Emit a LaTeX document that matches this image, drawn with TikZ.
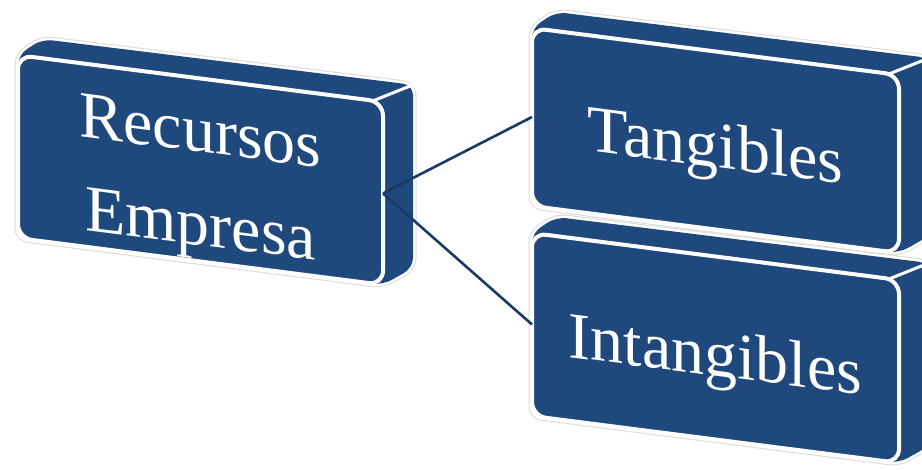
\documentclass[tikz,border=0pt]{standalone}
\usepackage{fontspec}
\setmainfont{Liberation Serif}
\usetikzlibrary{backgrounds}
\definecolor{boxblue}{HTML}{1F497D}
\definecolor{linkblue}{HTML}{1A3A66}
\begin{document}
\begin{tikzpicture}[x=1pt,y=-1pt,
  face/.style={draw=white, line width=4pt, fill=boxblue, rounded corners=14pt,
    yslant=-0.128, outer sep=0pt, inner sep=0pt},
  facetext/.style={yslant=-0.128, inner sep=0pt, text=white, align=center,
    font=\fontsize{66}{93}\selectfont},
  hull/.style={fill=boxblue, rounded corners=10pt,
    preaction={draw=black!14, line width=7pt},
    preaction={draw=white, line width=5pt}},
  edgeline/.style={draw=white, line width=3pt},
  link/.style={draw=linkblue, line width=2.6pt}]
\useasboundingbox (0,0) rectangle (922,470);

% front faces
\node[face, minimum width=365pt, minimum height=183pt] (rec) at (200.5,170) {};
\node[face, minimum width=367pt, minimum height=178pt] (tan) at (715.5,140.5) {};
\node[face, minimum width=367pt, minimum height=183pt] (int) at (715.5,348) {};

% labels on the front faces
\node[facetext] (rectext) at ([shift={(0,14)}]rec.center) {Recursos\\Empresa};
\node[facetext] (tantext) at ([shift={(0,11)}]tan.center) {Tangibles};
\node[facetext] (inttext) at ([shift={(0,12)}]int.center) {Intangibles};

% top and side faces behind each front face
\begin{scope}[on background layer]
  \foreach \b in {rec,tan,int}{
    \path[hull] (\b.south west) -- (\b.north west)
      -- ([shift={(24,-16)}]\b.north west)
      -- ([shift={(30,-17)}]\b.north east)
      -- ([shift={(30,-17)}]\b.south east)
      -- (\b.south east) -- cycle;
    \draw[edgeline] ([shift={(-10,-1)}]\b.north east) -- ([shift={(30,-17)}]\b.north east);
  }
\end{scope}

% connectors
\draw[link] (rec.east) -- (tan.west);
\draw[link] (rec.east) -- (int.west);
\end{tikzpicture}
\end{document}
